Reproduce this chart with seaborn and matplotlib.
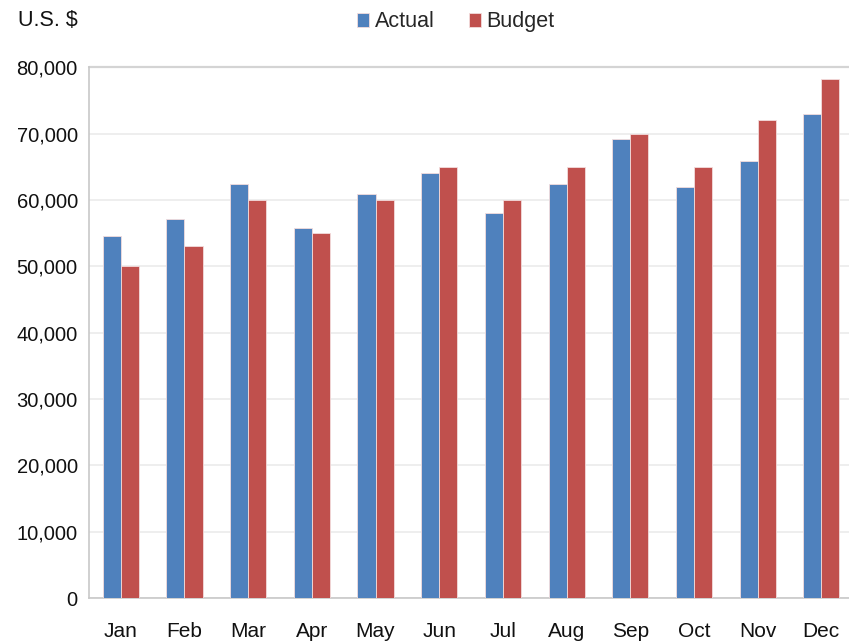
import matplotlib.pyplot as plt
import seaborn as sns
import pandas as pd
from matplotlib.ticker import FuncFormatter

months = ["Jan", "Feb", "Mar", "Apr", "May", "Jun", "Jul", "Aug", "Sep", "Oct", "Nov", "Dec"]
actual = [54500, 57200, 62400, 55800, 60900, 64100, 58100, 62400, 69200, 61900, 65900, 72900]
budget = [50000, 53000, 60000, 55000, 60000, 65000, 60000, 65000, 70000, 65000, 72000, 78300]

df = pd.DataFrame({
    "month": months * 2,
    "value": actual + budget,
    "series": ["Actual"] * len(months) + ["Budget"] * len(months),
})

sns.set_style("white")
plt.rcParams['font.family'] = ['Liberation Sans', 'DejaVu Sans']

fig = plt.figure(figsize=(8.49, 6.41), dpi=100)
ax = fig.add_axes([0.1048, 0.067, 0.9, 0.828])

palette = {"Actual": "#4F81BD", "Budget": "#C0504D"}
sns.barplot(data=df, x="month", y="value", hue="series", palette=palette,
            width=0.566, gap=0, saturation=1, edgecolor="#f3dcdc", linewidth=0.6,
            ax=ax, zorder=3)

ax.set_ylim(0, 80000)
ax.set_yticks(range(0, 80001, 10000))
ax.yaxis.set_major_formatter(FuncFormatter(lambda v, p: f"{int(v):,}"))
ax.set_xlim(-0.5, 11.5)
ax.grid(axis="y", color="#ebebeb", linewidth=1.2, zorder=0)
ax.set_xlabel("")
ax.set_ylabel("")
ax.tick_params(axis="y", labelsize=14.5, colors="#111111", length=0, pad=8)
ax.tick_params(axis="x", labelsize=15, colors="#111111", length=0, pad=17)

for side in ["top", "right"]:
    ax.spines[side].set_visible(False)
for side in ["left", "bottom"]:
    ax.spines[side].set_color("#c8c8c8")
    ax.spines[side].set_linewidth(1.2)
ax.axhline(80000, color="#d4d4d4", linewidth=1.6, zorder=2, clip_on=False)

ax.legend(title=None, loc="upper center", bbox_to_anchor=(0.48, 1.142), ncol=2,
          frameon=False, fontsize=15.5, handlelength=0.55, handleheight=0.6,
          handletextpad=0.25, columnspacing=1.6)
fig.text(0.021, 0.968, "U.S. $", fontsize=15.5, color="#111111", va="center")

plt.savefig("out.png", dpi=100)
plt.close()
